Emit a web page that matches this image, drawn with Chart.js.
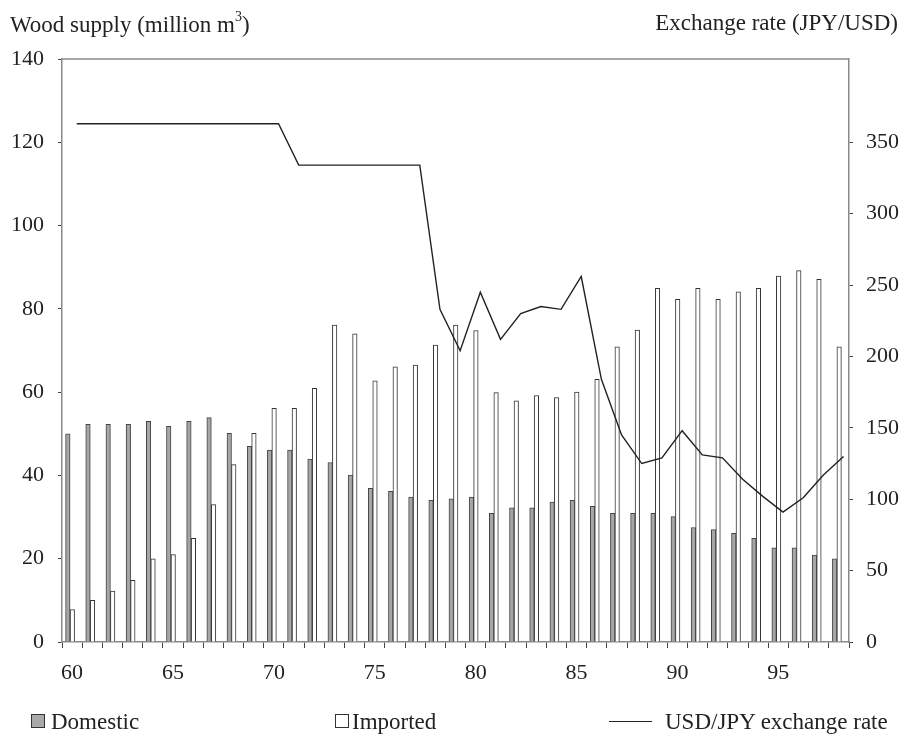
<!DOCTYPE html>
<html>
<head>
<meta charset="utf-8">
<script src="https://cdn.jsdelivr.net/npm/chart.js@4"></script>
<style>
  html, body { margin: 0; padding: 0; background: #fff; }
  #wrap { position: relative; width: 901px; height: 736px; font-family: "Liberation Serif", "Times New Roman", serif; color: #222; }
  canvas { position: absolute; left: 0; top: 0; }
  .lbl { position: absolute; font-size: 23px; line-height: 1; white-space: nowrap; }
  .lbl sup { font-size: 14px; position: relative; top: -2px; }
  .sw { position: absolute; width: 14px; height: 14px; border: 1px solid #333; box-sizing: border-box; }
  .ln { position: absolute; height: 0; border-top: 1.5px solid #222; }
</style>
</head>
<body>
<div id="wrap">
  <canvas id="chart" width="901" height="736"></canvas>
  <div class="lbl" style="left:10px; top:12px;">Wood supply (million m<sup>3</sup>)</div>
  <div class="lbl" style="right:3px; top:11px;">Exchange rate (JPY/USD)</div>
  <div class="sw" style="left:31px; top:714px; background:#a9a9a9;"></div>
  <div class="lbl" style="left:51px; top:710px;">Domestic</div>
  <div class="sw" style="left:335px; top:714px; background:#fff;"></div>
  <div class="lbl" style="left:352px; top:710px;">Imported</div>
  <div class="ln" style="left:609px; top:721px; width:43px;"></div>
  <div class="lbl" style="left:665px; top:710px;">USD/JPY exchange rate</div>
</div>
<script>
// ============================
// Data
// ============================

const years = ['60', '61', '62', '63', '64', '65', '66', '67', '68', '69',
    '70', '71', '72', '73', '74', '75', '76', '77', '78', '79',
    '80', '81', '82', '83', '84', '85', '86', '87', '88', '89',
    '90', '91', '92', '93', '94', '95', '96', '97', '98'];

const yearTicks = ['60', '65', '70', '75', '80', '85', '90', '95'];

// million m3
const domestic = [50.0, 52.3, 52.3, 52.3, 53.0, 51.8, 53.0, 53.9, 50.1, 47.0,
    46.1, 46.1, 43.9, 43.1, 40.1, 36.9, 36.2, 34.8, 34.0, 34.4,
    34.8, 30.9, 32.2, 32.2, 33.6, 34.0, 32.6, 30.9, 30.9, 30.9,
    30.1, 27.5, 27.0, 26.1, 24.9, 22.6, 22.6, 20.9, 20.0];

const imported = [7.8, 10.0, 12.2, 14.8, 20.0, 21.0, 24.9, 33.0, 42.6, 50.1,
    56.1, 56.1, 60.9, 76.1, 74.0, 62.7, 66.1, 66.5, 71.3, 76.1,
    74.8, 59.9, 57.9, 59.2, 58.7, 60.0, 63.1, 70.9, 74.9, 84.9,
    82.3, 84.9, 82.3, 84.1, 84.9, 87.9, 89.2, 87.1, 70.9];

// JPY per USD
const exchangeRate = [363, 363, 363, 363, 363, 363, 363, 363, 363, 363,
    363, 334, 334, 334, 334, 334, 334, 334, 233, 204,
    245, 212, 230, 235, 233, 256, 184, 145, 125, 129,
    148, 131, 129, 114, 102, 91, 101, 117, 130];

const leftTicks = [0, 20, 40, 60, 80, 100, 120, 140];
const rightTicks = [0, 50, 100, 150, 200, 250, 300, 350];

// ============================
// Chart
// ============================

const font = { family: '"Liberation Serif", "Times New Roman", serif', size: 22 };
const ink = '#222';
const frame = '#8a8a8a';

// right axis: 350 lines up with 120 on the left
const rightMax = 140 * 350 / 120;

// the original nudges bars a bit left and the line a bit right (in category widths)
const nudge = { bar: -0.1, line: 0.23 };

const framePlugin = {
    id: 'frame',
    beforeDatasetDraw(c, args) {
        const shift = nudge[args.meta.type] || 0;
        const step = c.scales.x.width / years.length;
        c.ctx.save();
        c.ctx.translate(shift * step, 0);
    },
    afterDatasetDraw(c) {
        c.ctx.restore();
    },
    afterDatasetsDraw(c) {
        const a = c.chartArea;
        const ctx = c.ctx;
        ctx.save();
        ctx.strokeStyle = frame;
        ctx.lineWidth = 1.5;
        ctx.beginPath();
        ctx.moveTo(a.left, a.top);
        ctx.lineTo(a.right, a.top);
        ctx.stroke();
        ctx.restore();
    }
};

new Chart(document.getElementById('chart'), {
    type: 'bar',
    data: {
        labels: years,
        datasets: [
            {
                label: 'Domestic',
                data: domestic,
                backgroundColor: '#a6a6a6',
                borderColor: '#444',
                borderWidth: { left: 1, right: 1, top: 1, bottom: 0 },
                barThickness: 4.5,
                yAxisID: 'y',
                order: 2
            },
            {
                label: 'Imported',
                data: imported,
                backgroundColor: '#fff',
                borderColor: '#333',
                borderWidth: { left: 1, right: 1, top: 1, bottom: 0 },
                barThickness: 4.5,
                yAxisID: 'y',
                order: 2
            },
            {
                type: 'line',
                label: 'USD/JPY exchange rate',
                data: exchangeRate,
                borderColor: ink,
                borderWidth: 1.4,
                pointRadius: 0,
                tension: 0,
                yAxisID: 'y1',
                order: 1
            }
        ]
    },
    options: {
        responsive: false,
        animation: false,
        events: [],
        layout: {
            padding: { top: 59, left: 0, right: 0, bottom: 44 }
        },
        scales: {
            x: {
                type: 'category',
                offset: true,
                border: { color: frame, width: 1.5 },
                grid: {
                    drawOnChartArea: false,
                    drawTicks: true,
                    tickLength: 6,
                    color: '#444',
                    offset: true
                },
                ticks: {
                    autoSkip: false,
                    maxRotation: 0,
                    color: ink,
                    font: font,
                    padding: 12,
                    callback: function (value) {
                        const lab = this.getLabelForValue(value);
                        return yearTicks.includes(lab) ? lab : '';
                    }
                },
                afterFit(scale) { scale.height = 50; }
            },
            y: {
                position: 'left',
                min: 0,
                max: 140,
                border: { color: frame, width: 1.5 },
                grid: {
                    drawOnChartArea: false,
                    drawTicks: true,
                    tickLength: 4,
                    color: '#444'
                },
                afterBuildTicks(scale) {
                    scale.ticks = leftTicks.map(v => ({ value: v }));
                },
                ticks: {
                    color: ink,
                    font: font,
                    padding: 14
                },
                afterFit(scale) { scale.width = 62; }
            },
            y1: {
                position: 'right',
                min: 0,
                max: rightMax,
                border: { color: frame, width: 1.5 },
                grid: {
                    drawOnChartArea: false,
                    drawTicks: true,
                    tickLength: 4,
                    color: '#444'
                },
                afterBuildTicks(scale) {
                    scale.ticks = rightTicks.map(v => ({ value: v }));
                },
                ticks: {
                    color: ink,
                    font: font,
                    padding: 13
                },
                afterFit(scale) { scale.width = 52; }
            }
        },
        plugins: {
            legend: { display: false },
            tooltip: { enabled: false },
            title: { display: false }
        }
    },
    plugins: [framePlugin]
});
</script>
</body>
</html>
